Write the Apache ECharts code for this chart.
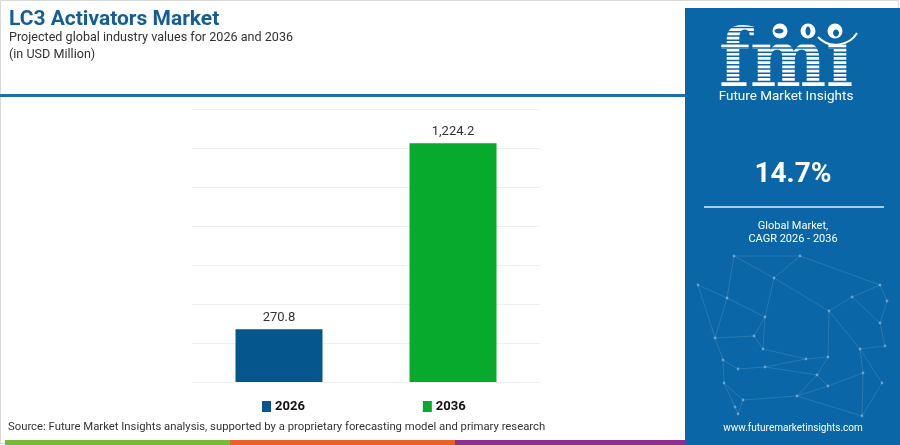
<!DOCTYPE html>
<html><head><meta charset="utf-8">
<script src="https://cdn.jsdelivr.net/npm/echarts@6/dist/echarts.min.js"></script>
<style>html,body{margin:0;padding:0;background:#fff}#c{width:900px;height:445px}</style>
</head><body><div id="c"></div>
<script>
const categories = ['2026', '2036'];
const values = [270.8, 1224.2];
const barColors = ['#05568d', '#08aa2e'];
const yTicks = { min: 0, max: 1400, interval: 200 };
const titleText = 'LC3 Activators Market';
const subtitleText = 'Projected global industry values for 2026 and 2036';
const unitText = '(in USD Million)';
const cagrText = '14.7%';
const sourceText = 'Source: Future Market Insights analysis, supported by a proprietary forecasting model and primary research';

const PANEL = '#0a66a6';
const FONT = 'Roboto, "Noto Sans", sans-serif';

const fmt = v => v.toLocaleString('en-US', { minimumFractionDigits: 1, maximumFractionDigits: 1 });

const series = categories.map((c, i) => ({
  name: c,
  type: 'bar',
  stack: 'one',
  barWidth: '50%',
  data: categories.map((_, j) => (j === i ? values[i] : '-')),
  itemStyle: { color: barColors[i] },
  label: {
    show: true, position: 'top', distance: 5,
    formatter: p => fmt(p.value),
    color: '#333', fontSize: 13, fontFamily: FONT
  }
}));

// decorative network in side panel
const nodes = [[734,256],[800,256],[774,278],[698,285],[727,298],[880,285],[852,297],[887,301],[829,311],[765,317],[880,323],[715,338],[754,336],[885,346],[860,349],[763,349],[828,357],[723,360],[806,359],[738,369],[765,367],[863,373],[817,375],[724,383],[828,386],[882,383],[797,396],[743,400],[735,407],[738,414],[862,416]];
const links = [[0,4],[0,2],[1,2],[1,5],[2,8],[2,9],[3,4],[4,9],[4,11],[5,6],[5,7],[6,8],[6,10],[7,10],[8,14],[8,16],[9,12],[9,15],[11,12],[11,17],[12,15],[13,14],[10,13],[14,21],[15,18],[16,18],[16,22],[17,19],[17,23],[18,20],[19,20],[20,22],[21,24],[21,30],[22,24],[22,26],[23,27],[23,28],[24,26],[26,27],[27,29],[28,29],[25,30],[14,25],[26,30],[3,11],[0,1]];
const netGraphics = links.map(([a, b]) => ({
  type: 'line', silent: true,
  shape: { x1: nodes[a][0], y1: nodes[a][1], x2: nodes[b][0], y2: nodes[b][1] },
  style: { stroke: 'rgba(200,225,245,0.2)', lineWidth: 0.8 }
})).concat(nodes.map(([x, y]) => ({
  type: 'circle', silent: true, shape: { cx: x, cy: y, r: 1.4 },
  style: { fill: 'rgba(220,235,250,0.4)' }
})));

// stripes over the logo letters
const logoStripes = [];
for (let y = 43; y <= 84; y += 4.2) {
  logoStripes.push({ type: 'rect', silent: true, shape: { x: 714, y: y, width: 145, height: 1.5 }, style: { fill: PANEL } });
}
for (let y = 22.6; y < 43; y += 4.2) {
  logoStripes.push({ type: 'rect', silent: true, shape: { x: 714, y: y, width: 56, height: 1.5 }, style: { fill: PANEL } });
}

const chart = echarts.init(document.getElementById('c'), null, { renderer: 'canvas' });
chart.setOption({
  backgroundColor: '#fff',
  animation: false,
  grid: { left: 192, right: 360, top: 109, bottom: 63 },
  xAxis: {
    type: 'category', data: categories,
    axisLine: { show: false }, axisTick: { show: false }, axisLabel: { show: false }
  },
  yAxis: {
    type: 'value', min: yTicks.min, max: yTicks.max, interval: yTicks.interval,
    axisLine: { show: false }, axisTick: { show: false }, axisLabel: { show: false },
    splitLine: { lineStyle: { color: '#efefef', width: 1 } }
  },
  legend: {
    data: categories, left: 257, top: 395, itemWidth: 9, itemHeight: 11, itemGap: 118,
    icon: 'rect',
    textStyle: { color: '#111', fontSize: 13, fontWeight: 'bold', fontFamily: FONT, padding: [0, 0, 0, -1] }
  },
  series: series,
  graphic: [
    { type: 'rect', silent: true, z: -1, shape: { x: 0.5, y: 0.5, width: 898, height: 443 }, style: { fill: 'none', stroke: '#d9d9d9', lineWidth: 1 } },
    { type: 'rect', silent: true, shape: { x: 0, y: 94, width: 685, height: 3 }, style: { fill: '#1f6fae' } },
    { type: 'text', left: 9, top: 9, style: { text: titleText, fontSize: 21, fontWeight: 'bold', fill: '#155d97', fontFamily: FONT } },
    { type: 'text', left: 9, top: 31, style: { text: subtitleText, fontSize: 12.6, fill: '#333', fontFamily: FONT } },
    { type: 'text', left: 9, top: 48, style: { text: unitText, fontSize: 12.6, fill: '#333', fontFamily: FONT } },
    { type: 'text', left: 8, top: 422, style: { text: sourceText, fontSize: 11.3, fill: '#333', fontFamily: FONT } },
    { type: 'rect', silent: true, shape: { x: 5, y: 440, width: 225, height: 5 }, style: { fill: '#79b93a' } },
    { type: 'rect', silent: true, shape: { x: 230, y: 440, width: 225, height: 5 }, style: { fill: '#e8602c' } },
    { type: 'rect', silent: true, shape: { x: 455, y: 440, width: 230, height: 5 }, style: { fill: '#8e2f8e' } },
    { type: 'rect', silent: true, shape: { x: 685, y: 8, width: 215, height: 437 }, style: { fill: PANEL } },
    ...netGraphics,
    { type: 'text', silent: true, x: 719, y: 105, style: { text: 'fmı', fontSize: 80, fontWeight: 'bold', fill: '#fff', fontFamily: '"DejaVu Serif Condensed", "DejaVu Serif", serif', verticalAlign: 'bottom', align: 'left' } },
    ...logoStripes,
    { type: 'circle', silent: true, shape: { cx: 780, cy: 31, r: 7.5 }, style: { fill: '#fff' } },
    { type: 'circle', silent: true, shape: { cx: 808, cy: 31, r: 7.5 }, style: { fill: '#fff' } },
    { type: 'circle', silent: true, shape: { cx: 835, cy: 31, r: 7.5 }, style: { fill: '#fff' } },
    { type: 'ellipse', silent: true, shape: { cx: 779, cy: 31, rx: 4.5, ry: 2.5 }, style: { fill: PANEL } },
    { type: 'ellipse', silent: true, shape: { cx: 808, cy: 31, rx: 2.5, ry: 4.5 }, style: { fill: PANEL } },
    { type: 'ellipse', silent: true, shape: { cx: 836, cy: 33, rx: 3, ry: 3.5 }, style: { fill: PANEL } },
    { type: 'bezierCurve', silent: true, shape: { x1: 818, y1: 37, cpx1: 830, cpy1: 50, cpx2: 850, cpy2: 45, x2: 857, y2: 33 }, style: { stroke: '#fff', lineWidth: 2, fill: 'none' } },
    { type: 'text', silent: true, x: 786, y: 97, style: { text: 'Future Market Insights', fontSize: 13.5, fill: '#fff', fontFamily: FONT, align: 'center', verticalAlign: 'middle' } },
    { type: 'text', silent: true, x: 793, y: 175, style: { text: cagrText, fontSize: 28, fontWeight: 'bold', fill: '#fff', fontFamily: FONT, align: 'center', verticalAlign: 'middle' } },
    { type: 'rect', silent: true, shape: { x: 704, y: 206, width: 180, height: 2 }, style: { fill: '#a8cbe8' } },
    { type: 'text', silent: true, x: 793, y: 226, style: { text: 'Global Market,', fontSize: 11, fill: '#fff', fontFamily: FONT, align: 'center', verticalAlign: 'middle' } },
    { type: 'text', silent: true, x: 793, y: 239, style: { text: 'CAGR 2026 - 2036', fontSize: 11, fill: '#fff', fontFamily: FONT, align: 'center', verticalAlign: 'middle' } },
    { type: 'text', silent: true, x: 793, y: 428, style: { text: 'www.futuremarketinsights.com', fontSize: 10, fill: '#fff', fontFamily: FONT, align: 'center', verticalAlign: 'middle' } }
  ]
});
</script>
</body></html>
